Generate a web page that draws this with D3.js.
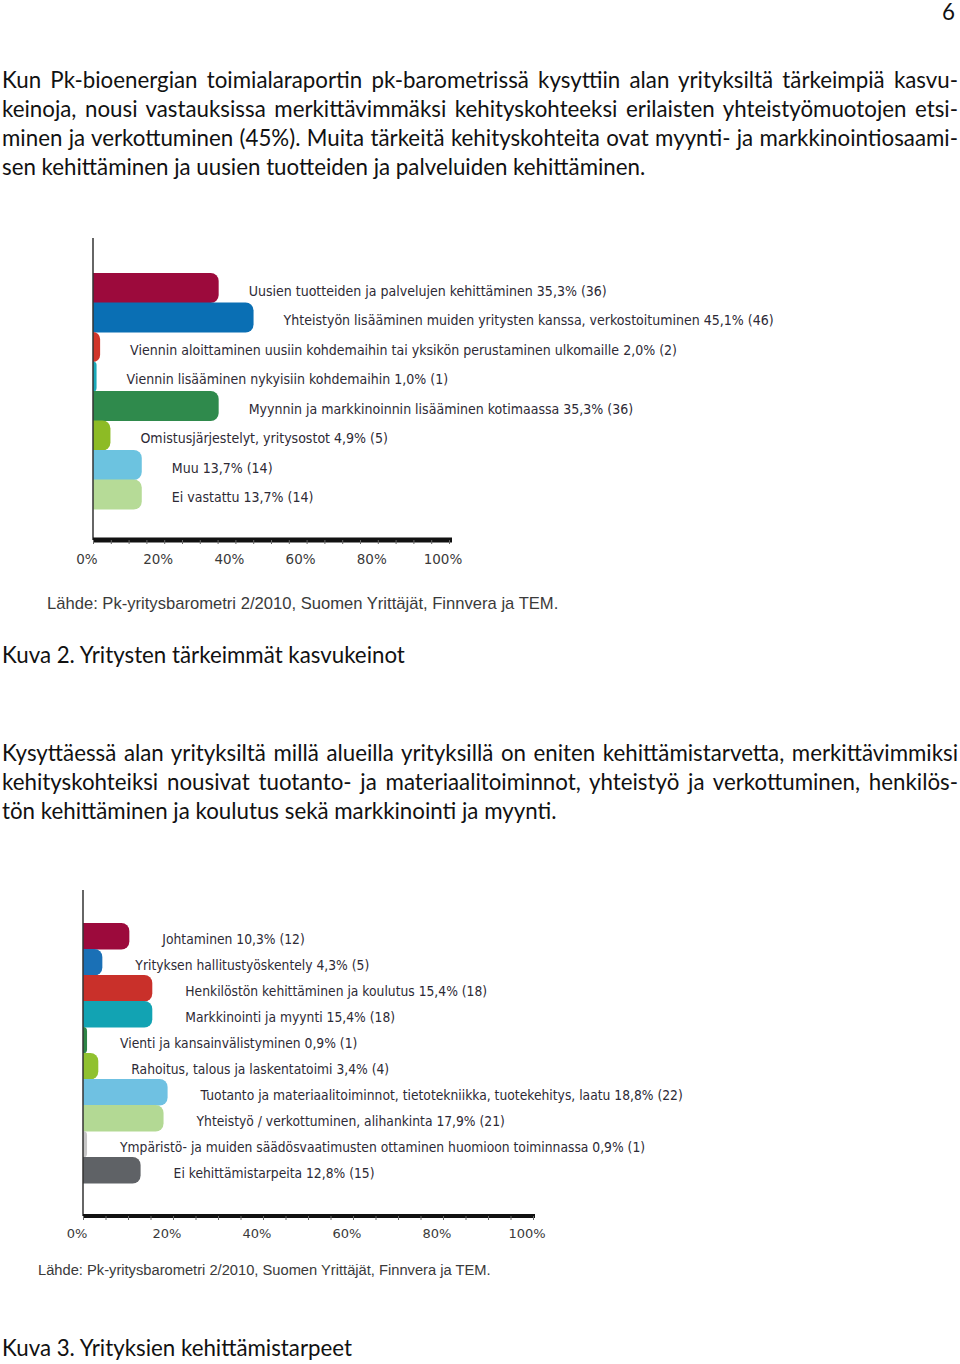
<!DOCTYPE html>
<html><head><meta charset="utf-8">
<script src="https://cdn.jsdelivr.net/npm/d3@7"></script>
<style>
html,body{margin:0;padding:0;background:#fff;}
svg{display:block;}
</style></head>
<body>
<script>
// ---------- DATA ----------
const para1 = [
  "Kun Pk-bioenergian toimialaraportin pk-barometrissä kysyttiin alan yrityksiltä tärkeimpiä kasvu-",
  "keinoja, nousi vastauksissa merkittävimmäksi kehityskohteeksi erilaisten yhteistyömuotojen etsi-",
  "minen ja verkottuminen (45%). Muita tärkeitä kehityskohteita ovat myynti- ja markkinointiosaami-",
  "sen kehittäminen ja uusien tuotteiden ja palveluiden kehittäminen."
];
const para2 = [
  "Kysyttäessä alan yrityksiltä millä alueilla yrityksillä on eniten kehittämistarvetta, merkittävimmiksi",
  "kehityskohteiksi nousivat tuotanto- ja materiaalitoiminnot, yhteistyö ja verkottuminen, henkilös-",
  "tön kehittäminen ja koulutus sekä markkinointi ja myynti."
];
const caption1 = "Kuva 2. Yritysten tärkeimmät kasvukeinot";
const caption2 = "Kuva 3. Yrityksien kehittämistarpeet";
const sourceText = "Lähde: Pk-yritysbarometri 2/2010, Suomen Yrittäjät, Finnvera ja TEM.";
const pageNumber = "6";

const chart1Categories = [
  "Uusien tuotteiden ja palvelujen kehittäminen",
  "Yhteistyön lisääminen muiden yritysten kanssa, verkostoituminen",
  "Viennin aloittaminen uusiin kohdemaihin tai yksikön perustaminen ulkomaille",
  "Viennin lisääminen nykyisiin kohdemaihin",
  "Myynnin ja markkinoinnin lisääminen kotimaassa",
  "Omistusjärjestelyt, yritysostot",
  "Muu",
  "Ei vastattu"
];
const chart1Values = [35.3, 45.1, 2.0, 1.0, 35.3, 4.9, 13.7, 13.7];
const chart1Counts = [36, 46, 2, 1, 36, 5, 14, 14];
const chart1Colors = ["#9c0a3c","#0a6fb4","#d0352a","#1aa9b9","#2f8a4c","#8dbb25","#6cc3e0","#b6db97"];

const chart2Categories = [
  "Johtaminen",
  "Yrityksen hallitustyöskentely",
  "Henkilöstön kehittäminen ja koulutus",
  "Markkinointi ja myynti",
  "Vienti ja kansainvälistyminen",
  "Rahoitus, talous ja laskentatoimi",
  "Tuotanto ja materiaalitoiminnot, tietotekniikka, tuotekehitys, laatu",
  "Yhteistyö / verkottuminen, alihankinta",
  "Ympäristö- ja muiden säädösvaatimusten ottaminen huomioon toiminnassa",
  "Ei kehittämistarpeita"
];
const chart2Values = [10.3, 4.3, 15.4, 15.4, 0.9, 3.4, 18.8, 17.9, 0.9, 12.8];
const chart2Counts = [12, 5, 18, 18, 1, 4, 22, 21, 1, 15];
const chart2Colors = ["#9c0a3c","#1a70b6","#c9302a","#12a3b3","#2e8446","#90c12f","#6fc1e2","#b3d994","#c6c6c6","#5f6266"];

const tickValues = [0, 20, 40, 60, 80, 100];
const minorTickValues = d3.range(0, 101, 5);

// ---------- PAGE ----------
const W = 960, H = 1364;
const svg = d3.select("body").append("svg").attr("width", W).attr("height", H);

const bodyFont = "Lato, 'Open Sans', sans-serif";
const bodySize = 22.3;
function justifiedLines(lines, x0, x1, y0, lh, size) {
  lines.forEach((ln, i) => {
    const t = svg.append("text").attr("x", x0).attr("y", y0 + i * lh)
      .attr("font-family", bodyFont).attr("font-size", size).attr("fill", "#111").text(ln);
    if (i < lines.length - 1) {
      const natural = t.node().getComputedTextLength();
      const spaces = (ln.match(/ /g) || []).length;
      if (spaces > 0) t.style("word-spacing", ((x1 - x0 - natural) / spaces) + "px");
    }
  });
}
svg.append("text").attr("x", 955).attr("y", 20).attr("text-anchor", "end")
  .attr("font-family", bodyFont).attr("font-size", bodySize).attr("fill", "#111").text(pageNumber);
justifiedLines(para1, 2, 958, 88, 29, bodySize);
svg.append("text").attr("x", 2).attr("y", 663).attr("font-family", bodyFont).attr("font-size", bodySize).attr("fill", "#111").text(caption1);
justifiedLines(para2, 2, 958, 761, 29, bodySize);
svg.append("text").attr("x", 2).attr("y", 1356).attr("font-family", bodyFont).attr("font-size", bodySize).attr("fill", "#111").text(caption2);

function roundedRight(x0, y0, w, h, r) {
  r = Math.min(r, w, h / 2);
  return `M${x0},${y0}H${x0 + w - r}A${r},${r} 0 0 1 ${x0 + w},${y0 + r}V${y0 + h - r}A${r},${r} 0 0 1 ${x0 + w - r},${y0 + h}H${x0}Z`;
}
const fmt = v => d3.format(".1f")(v).replace(".", ",");

function drawChart(cfg) {
  const g = svg.append("g");
  const x = d3.scaleLinear().domain([0, 100]).range([cfg.x0, cfg.x1]);
  const y = d3.scaleBand().domain(cfg.cats).range([cfg.barTop, cfg.barBottom]).padding(0);
  const data = cfg.cats.map((c, i) => ({c, v: cfg.vals[i], n: cfg.counts[i], col: cfg.colors[i]}));

  // bars
  g.selectAll("path.bar").data(data).join("path").attr("class", "bar")
    .attr("d", d => roundedRight(x(0), y(d.c), x(d.v) - x(0), y.bandwidth() + 0.5, cfg.radius))
    .attr("fill", d => d.col);

  // labels
  g.selectAll("text.lab").data(data).join("text").attr("class", "lab")
    .attr("transform", d => `translate(${x(d.v) + cfg.labelGap},${y(d.c) + y.bandwidth() / 2 + cfg.labelDy}) scale(${cfg.sx},1)`)
    .attr("font-family", "'DejaVu Sans', Verdana, sans-serif").attr("font-size", cfg.labelSize)
    .attr("fill", "#2d2a35")
    .text(d => `${d.c} ${fmt(d.v)}% (${d.n})`);

  // y axis line
  g.append("line").attr("x1", x(0)).attr("x2", x(0)).attr("y1", cfg.axisTop).attr("y2", cfg.axisY)
    .attr("stroke", "#333").attr("stroke-width", 1.5);

  // x axis
  const axis = d3.axisBottom(x).tickValues(minorTickValues).tickSize(4).tickFormat("");
  const ag = g.append("g").attr("transform", `translate(0,${cfg.axisY})`).call(axis);
  ag.select(".domain").attr("stroke", "#111").attr("stroke-width", cfg.axisW)
    .attr("d", `M${x(0)},0H${cfg.axisEnd}`);
  ag.selectAll(".tick line").attr("stroke", "#666").attr("stroke-width", 1);
  const tg = g.append("g").attr("transform", `translate(0,${cfg.axisY})`);
  tg.selectAll("text").data(tickValues).join("text")
    .attr("x", d => x(d) - cfg.tickDx).attr("y", cfg.tickLabY)
    .attr("text-anchor", "middle").attr("font-family", "'DejaVu Sans', Verdana, sans-serif")
    .attr("font-size", cfg.tickSize).attr("fill", "#3a3a3a").text(d => d + "%");

  // source
  g.append("text").attr("x", cfg.srcX).attr("y", cfg.srcY)
    .attr("font-family", "'Liberation Sans', Arial, sans-serif").attr("font-size", cfg.srcSize)
    .attr("fill", "#3a3a3a").text(sourceText);
}

drawChart({
  cats: chart1Categories, vals: chart1Values, counts: chart1Counts, colors: chart1Colors,
  x0: 93, x1: 449, barTop: 273, barBottom: 509, radius: 8,
  axisTop: 238, axisY: 540, axisEnd: 452, axisW: 5,
  labelGap: 30, labelDy: 8, labelSize: 14.5, sx: 0.87,
  tickDx: 6, tickLabY: 24, tickSize: 13.5,
  srcX: 47, srcY: 609, srcSize: 16.6
});
drawChart({
  cats: chart2Categories, vals: chart2Values, counts: chart2Counts, colors: chart2Colors,
  x0: 83, x1: 533, barTop: 923, barBottom: 1183, radius: 8,
  axisTop: 890, axisY: 1216, axisEnd: 535, axisW: 4,
  labelGap: 33, labelDy: 7.5, labelSize: 13.5, sx: 0.915,
  tickDx: 6, tickLabY: 22, tickSize: 13,
  srcX: 38, srcY: 1275, srcSize: 14.7
});
</script>
</body></html>
